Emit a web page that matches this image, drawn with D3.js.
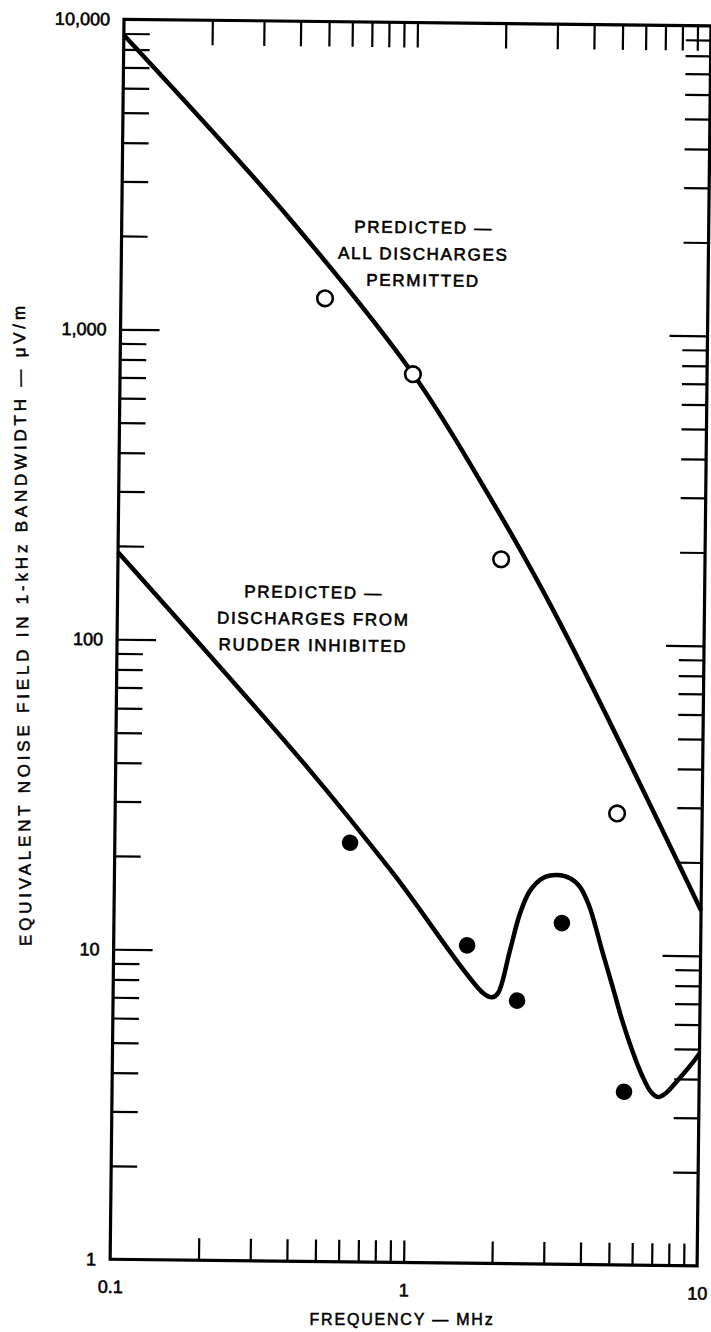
<!DOCTYPE html>
<html>
<head>
<meta charset="utf-8">
<script src="https://cdn.jsdelivr.net/npm/d3@7"></script>
<style>
  body { margin: 0; background: #fff; }
  svg { display: block; font-family: "Liberation Sans", Arial, Helvetica, sans-serif; }
</style>
</head>
<body>
<svg id="chart" width="711" height="1332"></svg>
<script>
"use strict";

// frequency in MHz, field in uV/m
const upperFreq = [0.1, 0.374, 0.996, 1.70, 3.05, 10];
const upperField = [8900, 2300, 735, 335, 129, 14.0];

const lowerFreq = [0.1, 0.449, 0.889, 1.821, 1.954, 2.048, 2.242, 2.417, 2.61, 2.886,
  3.22, 3.567, 3.862, 4.15, 4.36, 4.61, 5.01, 5.43, 5.89, 6.38, 6.86, 7.25, 7.72, 8.47, 9.30, 10];
const lowerField = [191, 39.3, 18.0, 7.45, 7.22, 7.45, 10.27, 13.5, 16.0, 17.6,
  18.0, 17.6, 16.5, 14.4, 12.46, 10.35, 7.99, 6.17, 4.94, 4.10, 3.62, 3.49, 3.60, 3.97, 4.41, 4.84];

// measured points
const openFreq = [0.496, 0.995, 2.02, 5.13];
const openField = [1280, 734, 187, 28.6];
const filledFreq = [0.633, 1.60, 2.38, 3.36, 5.55];
const filledField = [22.5, 10.6, 7.06, 12.6, 3.62];

const xTicks = [0.1, 0.2, 0.3, 0.4, 0.5, 0.6, 0.7, 0.8, 0.9, 1, 2, 3, 4, 5, 6, 7, 8, 9, 10];
const yTicks = [];
[1, 10, 100, 1000].forEach(function (p) {
  for (let k = 1; k < 10; k++) yTicks.push(k * p);
});
yTicks.push(10000);

const xLabels = [0.1, 1, 10];

const upperNote = ['PREDICTED \u2014', 'ALL DISCHARGES', 'PERMITTED'];
const lowerNote = ['PREDICTED \u2014', 'DISCHARGES FROM', 'RUDDER INHIBITED'];

(function () {
  const W = 587;
  const H = 1240;

  const x = d3.scaleLog().domain([0.1, 10]).range([0, W]);
  const y = d3.scaleLog().domain([1, 10000]).range([H, 0]);

  const svg = d3.select('#chart');
  svg.append('rect').attr('width', 711).attr('height', 1332).attr('fill', '#fff');

  // the scan is turned a little, so the whole frame is too
  const plot = svg.append('g')
    .attr('transform', 'translate(124,19.3) rotate(0.64)');

  function isMajor(v) {
    let l = Math.log10(v);
    return Math.abs(l - Math.round(l)) < 1e-6;
  }
  function isEnd(v, dom) {
    return Math.abs(v - dom[0]) < 1e-9 || Math.abs(v - dom[1]) < 1e-9;
  }

  // left axis, ticks inward
  let left = plot.append('g')
    .attr('class', 'axis')
    .call(d3.axisLeft(y).tickValues(yTicks).tickSize(0).tickPadding(14)
      .tickFormat(function (d) {
        return isMajor(d) ? d3.format(',')(d) : '';
      }));
  left.selectAll('line')
    .attr('x2', function (d) {
      if (isEnd(d, y.domain())) return 0;
      return isMajor(d) ? 39 : 26;
    });

  // right axis
  let right = plot.append('g')
    .attr('class', 'axis')
    .attr('transform', 'translate(' + W + ',0)')
    .call(d3.axisRight(y).tickValues(yTicks).tickSize(0).tickFormat(''));
  right.selectAll('line')
    .attr('x2', function (d) {
      if (isEnd(d, y.domain())) return 0;
      return isMajor(d) ? -38 : -25;
    });

  // top axis
  let top = plot.append('g')
    .attr('class', 'axis')
    .call(d3.axisTop(x).tickValues(xTicks).tickSize(0).tickFormat(''));
  top.selectAll('line')
    .attr('y2', function (d) {
      return isEnd(d, x.domain()) ? 0 : 25;
    });

  // bottom axis
  let bottom = plot.append('g')
    .attr('class', 'axis')
    .attr('transform', 'translate(0,' + H + ')')
    .call(d3.axisBottom(x).tickValues(xTicks).tickSize(0).tickPadding(21)
      .tickFormat(function (d) {
        return xLabels.indexOf(d) >= 0 ? d3.format('')(d) : '';
      }));
  bottom.selectAll('line')
    .attr('y2', function (d) {
      return isEnd(d, x.domain()) ? 0 : -22;
    });

  plot.selectAll('.axis path.domain').remove();
  plot.selectAll('.axis line')
    .attr('stroke', '#000')
    .attr('stroke-width', 2.2);
  plot.selectAll('.axis text')
    .attr('fill', '#000')
    .attr('stroke', '#000')
    .attr('stroke-width', 0.6)
    .style('font-size', '18px')
    .style('font-family', '"Liberation Sans", Arial, sans-serif');

  // frame
  plot.append('rect')
    .attr('x', 0).attr('y', 0)
    .attr('width', W).attr('height', H)
    .attr('fill', 'none')
    .attr('stroke', '#000')
    .attr('stroke-width', 3.2);

  // predicted curves
  let line = d3.line()
    .x(function (d) { return x(d[0]); })
    .y(function (d) { return y(d[1]); })
    .curve(d3.curveCatmullRom.alpha(0.5));

  let upper = upperFreq.map(function (f, i) { return [f, upperField[i]]; });
  let lower = lowerFreq.map(function (f, i) { return [f, lowerField[i]]; });

  plot.selectAll('.curve')
    .data([upper, lower])
    .enter()
    .append('path')
    .attr('class', 'curve')
    .attr('d', line)
    .attr('fill', 'none')
    .attr('stroke', '#000')
    .attr('stroke-width', 4.5)
    .attr('stroke-linejoin', 'round');

  // measured points
  plot.selectAll('.open')
    .data(openFreq.map(function (f, i) { return [f, openField[i]]; }))
    .enter()
    .append('circle')
    .attr('class', 'open')
    .attr('cx', function (d) { return x(d[0]); })
    .attr('cy', function (d) { return y(d[1]); })
    .attr('r', 7.8)
    .attr('fill', '#fff')
    .attr('stroke', '#000')
    .attr('stroke-width', 2.6);

  plot.selectAll('.filled')
    .data(filledFreq.map(function (f, i) { return [f, filledField[i]]; }))
    .enter()
    .append('circle')
    .attr('class', 'filled')
    .attr('cx', function (d) { return x(d[0]); })
    .attr('cy', function (d) { return y(d[1]); })
    .attr('r', 8.3)
    .attr('fill', '#000');

  // notes
  function note(lines, cx, cy) {
    plot.append('g').selectAll('text')
      .data(lines)
      .enter()
      .append('text')
      .attr('x', cx)
      .attr('y', function (d, i) { return cy + i * 26.5; })
      .attr('dy', '0.36em')
      .attr('text-anchor', 'middle')
      .style('font-size', '17px')
      .style('letter-spacing', '1.7px')
      .attr('fill', '#000')
      .attr('stroke', '#000')
      .attr('stroke-width', 0.6)
      .text(function (d) { return d; });
  }
  note(upperNote, 302, 204.5);
  note(lowerNote, 196, 570.5);

  // axis titles
  svg.append('text')
    .attr('x', 402)
    .attr('y', 1319)
    .attr('dy', '0.36em')
    .attr('text-anchor', 'middle')
    .style('font-size', '16px')
    .style('letter-spacing', '1.8px')
    .attr('fill', '#000')
    .attr('stroke', '#000')
    .attr('stroke-width', 0.5)
    .text('FREQUENCY \u2014 MHz');

  svg.append('text')
    .attr('transform', 'translate(22,626) rotate(-90.6)')
    .attr('dy', '0.36em')
    .attr('text-anchor', 'middle')
    .attr('textLength', 640)
    .attr('lengthAdjust', 'spacing')
    .style('font-size', '17px')
    .attr('fill', '#000')
    .attr('stroke', '#000')
    .attr('stroke-width', 0.5)
    .text('EQUIVALENT NOISE FIELD IN 1-kHz BANDWIDTH \u2014 \u03bcV/m');
})();
</script>
</body>
</html>
